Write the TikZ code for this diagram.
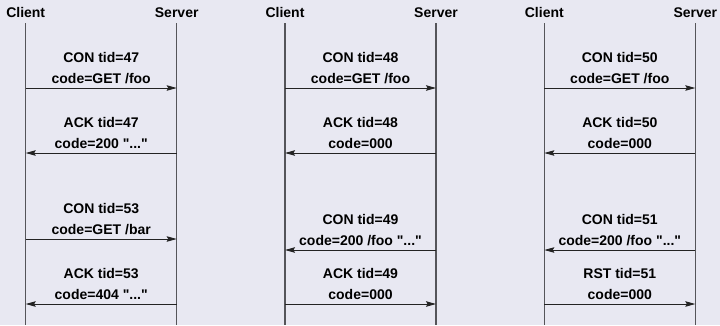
\documentclass[tikz,border=0pt]{standalone}
\usepackage{fontspec}
\setmainfont{Liberation Sans}[Ligatures=TeXOff]
\usetikzlibrary{arrows.meta}
\definecolor{bgc}{RGB}{232,232,242}
\definecolor{lifec}{RGB}{85,85,90}
\definecolor{msgc}{RGB}{35,35,35}
% #1 name, #2 x from, #3 x to, #4 y, #5 first line, #6 second line
\newcommand\mymsg[6]{%
  \coordinate (#1f) at (#2,#4);
  \coordinate (#1t) at (#3,#4);
  \draw[msg] (#1f) -- (#1t);
  \node[lbl] (#1a) at ({(#2+#3)/2},{#4-26}) {#5};
  \node[lbl] (#1b) at ({(#2+#3)/2},{#4-5}) {#6};
}
% #1 name, #2 x
\newcommand\mylife[3]{%
  \node[hdr] (#1) at (#2,17) {#3};
  \coordinate (#1top) at (#2,23);
  \coordinate (#1bot) at (#2,325);
  \draw[life] (#1top) -- (#1bot);
}
\begin{document}
\begin{tikzpicture}[x=1pt,y=-1pt,
  life/.style={draw=lifec, line width=1.3pt},
  msg/.style={draw=msgc, line width=0.9pt, -{Stealth[length=10pt,width=5.5pt,inset=1.5pt]}},
  hdr/.style={font=\fontsize{14}{16}\selectfont\bfseries, anchor=base, inner sep=0pt},
  lbl/.style={font=\fontsize{14}{16}\selectfont\bfseries, anchor=base, inner sep=0pt}]
\fill[bgc] (0,0) rectangle (720,325);
\useasboundingbox (0,0) rectangle (720,325);
% panel 1
\mylife{c1}{25.7}{Client}
\mylife{s1}{176.7}{Server}
\mymsg{p1m1}{25.7}{176.7}{88}{CON tid=47}{code=GET /foo}
\mymsg{p1m2}{176.7}{25.7}{153}{ACK tid=47}{code=200 "..."}
\mymsg{p1m3}{25.7}{176.7}{239}{CON tid=53}{code=GET /bar}
\mymsg{p1m4}{176.7}{25.7}{304}{ACK tid=53}{code=404 "..."}
% panel 2
\mylife{c2}{285}{Client}
\mylife{s2}{436}{Server}
\mymsg{p2m1}{285}{436}{88}{CON tid=48}{code=GET /foo}
\mymsg{p2m2}{436}{285}{153}{ACK tid=48}{code=000}
\mymsg{p2m3}{436}{285}{250}{CON tid=49}{code=200 /foo "..."}
\mymsg{p2m4}{285}{436}{304}{ACK tid=49}{code=000}
% panel 3
\mylife{c3}{544.3}{Client}
\mylife{s3}{695.3}{Server}
\mymsg{p3m1}{544.3}{695.3}{88}{CON tid=50}{code=GET /foo}
\mymsg{p3m2}{695.3}{544.3}{153}{ACK tid=50}{code=000}
\mymsg{p3m3}{695.3}{544.3}{250}{CON tid=51}{code=200 /foo "..."}
\mymsg{p3m4}{544.3}{695.3}{304}{RST tid=51}{code=000}
\end{tikzpicture}
\end{document}
